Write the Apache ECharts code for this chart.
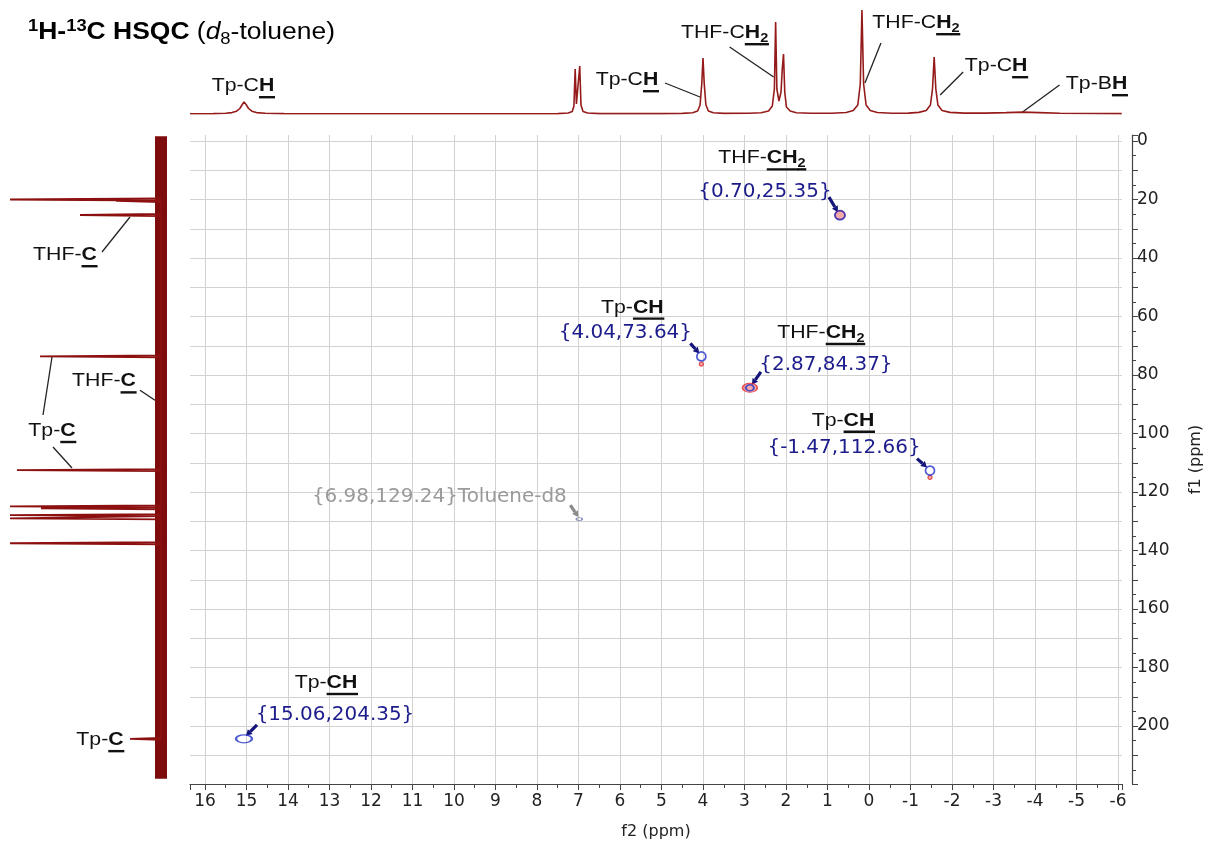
<!DOCTYPE html>
<html><head><meta charset="utf-8">
<script src="https://cdn.jsdelivr.net/npm/echarts@6/dist/echarts.min.js"></script>
<style>html,body{margin:0;padding:0;background:#fff}#c{width:1205px;height:844px}</style>
</head><body><div id="c"></div>
<script>
// ---------------- DATA ----------------
// axis extents (ppm)
const f2Range = [-6.096, 16.361];
const f1Range = [-2.05, 219.8];

// 1H projection (ppm, intensity)
const protonSpectrum = [
 [16.36,0.3],[15.8,0.4],[15.5,0.7],[15.35,1.4],[15.24,2.8],[15.16,5.5],[15.10,9.5],[15.06,12],[15.01,9.5],[14.95,5.5],[14.87,2.8],[14.76,1.4],[14.55,0.7],[14.1,0.4],
 [12.0,0.3],[9.0,0.3],[7.5,0.4],[7.25,1.0],[7.15,2.5],[7.11,8],[7.08,45],[7.05,10],[7.02,8],[6.97,48],[6.94,9],[6.89,2.5],[6.78,1.0],[6.5,0.4],
 [5.0,0.4],[4.5,0.6],[4.25,1.3],[4.13,3],[4.07,9],[4.03,30],[4.00,56],[3.97,30],[3.93,9],[3.87,3],[3.75,1.3],[3.5,0.6],
 [2.9,0.7],[2.6,1.3],[2.42,3],[2.33,8],[2.28,25],[2.25,92],[2.22,25],[2.17,13],[2.12,22],[2.09,45],[2.06,60],[2.03,22],[1.99,7],[1.9,3],[1.75,1.3],[1.4,0.7],
 [0.9,0.8],[0.55,1.5],[0.38,3.5],[0.27,9],[0.21,30],[0.17,104],[0.13,30],[0.07,9],[-0.03,3.5],[-0.2,1.5],[-0.55,0.8],
 [-0.95,0.9],[-1.2,1.6],[-1.38,3.5],[-1.48,9],[-1.53,25],[-1.57,57],[-1.61,25],[-1.66,9],[-1.76,3.5],[-1.95,1.6],[-2.3,0.9],
 [-2.8,0.9],[-3.3,1.4],[-3.7,1.9],[-4.1,1.4],[-4.6,0.8],[-5.3,0.5],[-6.09,0.4]
];

// 13C projection: noise baseline and peaks (ppm, intensity)
const carbonBaseline = [[0,-1.6],[0,218.0]];
const carbonPeakPpm = [20.0, 20.5, 25.3, 73.6, 112.5, 124.9, 125.6, 127.9, 129.0, 137.5, 204.4];
const carbonPeakInt = [151, 45, 81, 121, 144, 151, 120, 151, 151, 151, 31];

// HSQC cross peaks
const peakF2 = [0.70, 4.04, 2.87, -1.47, 6.98, 15.06];
const peakF1 = [25.35, 73.64, 84.37, 112.66, 129.24, 204.35];
const peakPre = ['THF-', 'Tp-', 'THF-', 'Tp-', '', 'Tp-'];
const peakBold = ['CH', 'CH', 'CH', 'CH', '', 'CH'];
const peakSub = ['2', '', '2', '', '', ''];
const peakSuffix = ['', '', '', '', 'Toluene-d8', ''];
// secondary (red) contours
const redF2 = [0.70, 2.87, 4.04, -1.47];
const redF1 = [25.35, 84.37, 76.3, 115.0];

// 1H projection labels
const hLabelPre = ['Tp-C', 'Tp-C', 'THF-C', 'THF-C', 'Tp-C', 'Tp-B'];
const hLabelSub = ['', '', '2', '2', '', ''];
const hLabelPpm = [15.06, 4.00, 2.25, 0.17, -1.57, -3.7];

// 13C projection labels
const cLabelPre = ['THF-', 'THF-', 'Tp-', 'Tp-'];
const cLabelPpm = [25.3, 88.6, 73.6, 204.4];

// ---------------- LAYOUT ----------------
const blueSize = [[10,9],[9,9],[8,6],[9,9],[6,3],[16,8]];
const redSize = [[10,9],[15,9],[4,4],[4,4]];
const crossLayout = [
 {name:[-78,-57], val:[-75,-23], a1:[-11,-18], a2:[-2,-3]},
 {name:[-69,-49], val:[-76,-23], a1:[-11,-13], a2:[-2,-3]},
 {name:[71,-55],  val:[76,-23],  a1:[11,-16],  a2:[2,-3]},
 {name:[-87,-50], val:[-86,-23], a1:[-13,-12], a2:[-3,-3]},
 {name:null,      val:[-140,-22],a1:[-9,-14],  a2:[-1,-2]},
 {name:[82,-56],  val:[91,-24],  a1:[13,-14],  a2:[2,-3]}
];
const hLayout = [
 {lab:[-1,-28], l1:null, l2:null},
 {lab:[-76,-34], l1:[-38,-31], l2:[-3,-17]},
 {lab:[-51,-81], l1:[-46,-67], l2:[-2,-37]},
 {lab:[54,-91], l1:[19,-71], l2:[3,-31]},
 {lab:[62,-48], l1:[29,-42], l2:[6,-19]},
 {lab:[74,-30], l1:[37,-29], l2:[0,-2]}
];
const cLayout = [
 {lab:[-96,40], lines:[[[-59,37],[-31,2]]]},
 {lab:[-57,-19], lines:[[[-21,-10],[-6,0]]]},
 {lab:[-109,74.5], lines:[[[-118,58.7],[-109,0.7]], [[-108,90.7],[-89,111.7]]]},
 {lab:[-61,1], lines:[]}
];

const AX = 'DejaVu Sans';
const LAB = 'Liberation Sans';
const SPEC = '#951b1b';

// ---------------- CHART ----------------
const chart = echarts.init(document.getElementById('c'), null, {renderer:'canvas'});

function carbonLine() {
  const out = [];
  carbonPeakPpm.forEach((p, i) => { out.push([0, p - 0.35], [carbonPeakInt[i], p], [0, p + 0.35]); });
  return out;
}
const intFmt = v => Math.abs(v - Math.round(v)) < 1e-6 ? String(Math.round(v) === 0 ? 0 : Math.round(v)) : '';

const option = {
  animation: false,
  backgroundColor: '#fff',
  grid: [
    {left:190, top:135, width:932, height:649, containLabel:false, outerBoundsMode:'none'},
    {left:190, top:10, width:932, height:104, containLabel:false, outerBoundsMode:'none'},
    {left:10, top:135, width:151, height:649, containLabel:false, outerBoundsMode:'none'}
  ],
  xAxis: [
    {gridIndex:0, type:'value', inverse:true, min:f2Range[0], max:f2Range[1], splitNumber:22,
     axisLine:{show:true, onZero:false, lineStyle:{color:'#444', width:1.2}},
     axisTick:{show:true, length:6, lineStyle:{color:'#444'}},
     minorTick:{show:true, splitNumber:2, length:4, lineStyle:{color:'#444'}},
     axisLabel:{formatter:intFmt, fontFamily:AX, fontSize:17, color:'#222', margin:9, showMinLabel:true, showMaxLabel:true},
     splitLine:{show:true, showMinLine:false, showMaxLine:false, lineStyle:{color:'#d2d2d2', width:1}},
     name:'f2 (ppm)', nameLocation:'middle', nameGap:40, nameTextStyle:{fontFamily:AX, fontSize:16, color:'#222'}},
    {gridIndex:1, type:'value', inverse:true, min:f2Range[0], max:f2Range[1], show:false},
    {gridIndex:2, type:'value', inverse:true, min:0, max:151, show:false}
  ],
  yAxis: [
    {gridIndex:0, type:'value', inverse:true, min:f1Range[0], max:f1Range[1], splitNumber:22, position:'right', offset:10,
     axisLine:{show:true, onZero:false, lineStyle:{color:'#444', width:1.2}},
     axisTick:{show:true, length:6, lineStyle:{color:'#444'}},
     minorTick:{show:true, splitNumber:2, length:4, lineStyle:{color:'#444'}},
     axisLabel:{formatter:v => { const r = Math.round(v); return (Math.abs(v - r) < 1e-6 && r % 20 === 0) ? String(r) : ''; },
       fontFamily:AX, fontSize:17, color:'#222', margin:5},
     splitLine:{show:true, showMinLine:false, showMaxLine:false, lineStyle:{color:'#d2d2d2', width:1}},
     name:'f1 (ppm)', nameLocation:'middle', nameGap:56, nameRotate:90, nameTextStyle:{fontFamily:AX, fontSize:16, color:'#222'}},
    {gridIndex:1, type:'value', min:0, max:104, show:false},
    {gridIndex:2, type:'value', inverse:true, min:f1Range[0], max:f1Range[1], show:false}
  ],
  series: [
    {type:'line', xAxisIndex:1, yAxisIndex:1, data:protonSpectrum, showSymbol:false, symbol:'none',
     lineStyle:{color:SPEC, width:1.6}, clip:true, z:3},
    {type:'line', xAxisIndex:2, yAxisIndex:2, data:carbonBaseline, showSymbol:false, symbol:'none',
     lineStyle:{color:'#7e0c0c', width:12}, z:2},
    {type:'line', xAxisIndex:2, yAxisIndex:2, data:carbonLine(), showSymbol:false, symbol:'none',
     lineStyle:{color:'#8c1010', width:1.8}, z:3},
    {type:'scatter', xAxisIndex:0, yAxisIndex:0, symbol:'circle',
     data: redF2.map((x, i) => ({value:[x, redF1[i]], symbolSize:redSize[i]})),
     itemStyle:{color:'rgba(235,60,60,0.55)', borderColor:'#e02525', borderWidth:1.2}, z:4},
    {type:'scatter', xAxisIndex:0, yAxisIndex:0, symbol:'circle',
     data: peakF2.map((x, i) => ({value:[x, peakF1[i]], symbolSize:blueSize[i],
       itemStyle: i === 4 ? {color:'rgba(0,0,0,0)', borderColor:'#6a70a8', borderWidth:1.2} : undefined})),
     itemStyle:{color:'rgba(0,0,0,0)', borderColor:'#2030c8', borderWidth:1.7}, z:5}
  ]
};
chart.setOption(option);

// ---------------- ANNOTATIONS ----------------
const mctx = document.createElement('canvas').getContext('2d');
function fnt(size, bold, italic, fam) { return (italic ? 'italic ' : '') + (bold ? 'bold ' : '') + size + 'px "' + fam + '"'; }
function makeText(parts, cx, cy, o) {
  let w = 0; const items = [];
  for (const p of parts) {
    if (!p.t) continue;
    const sz = p.small ? Math.round(o.size * 0.68) : o.size;
    const f = fnt(sz, p.b, p.i, o.fam);
    mctx.font = f;
    const tw = mctx.measureText(p.t).width;
    items.push({p, f, x:w, tw});
    w += tw;
  }
  const x0 = o.align === 'left' ? 0 : -w / 2;
  const ch = [];
  for (const it of items) {
    const dy = it.p.sub ? o.size * 0.3 : (it.p.sup ? -o.size * 0.3 : 0);
    ch.push({type:'text', x:x0 + it.x, y:dy,
      style:{text:it.p.t, font:it.f, fill:it.p.c || o.color, textAlign:'left', textVerticalAlign:'middle', align:'left', verticalAlign:'middle'}});
    if (it.p.u) ch.push({type:'rect', shape:{x:x0 + it.x, y:o.size * 0.5 + 0.5, width:it.tw + 0.6, height:2.4},
      style:{fill:it.p.c || o.color}});
  }
  return {type:'group', x:cx, y:cy, scaleX:o.sx || 1, children:ch};
}
function seg(x1, y1, x2, y2, color, w) {
  return {type:'line', shape:{x1, y1, x2, y2}, style:{stroke:color, lineWidth:w}};
}
function arrow(x1, y1, x2, y2, color) {
  const dx = x2 - x1, dy = y2 - y1, L = Math.hypot(dx, dy), ux = dx / L, uy = dy / L;
  const hb = 6, hw = 3.4, bx = x2 - ux * hb, by = y2 - uy * hb;
  return [seg(x1, y1, bx, by, color, 3.2),
    {type:'polygon', shape:{points:[[x2, y2], [bx - uy * hw, by + ux * hw], [bx + uy * hw, by - ux * hw]]}, style:{fill:color}}];
}

const g = [];
const labStyle = {size:19, fam:LAB, color:'#111', sx:1.12};
const valStyle = {size:19, fam:AX, color:'#1c1c8c', sx:1.05};

// title
g.push(makeText([
  {t:'1', b:true, small:true, sup:true}, {t:'H-', b:true}, {t:'13', b:true, small:true, sup:true}, {t:'C HSQC', b:true},
  {t:' ('}, {t:'d', i:true}, {t:'8', small:true, sub:true}, {t:'-toluene)'}
], 28, 33, {size:23, fam:LAB, color:'#000', sx:1.15, align:'left'}));

// cross peaks
peakF2.forEach((x, i) => {
  const [px, py] = chart.convertToPixel({gridIndex:0}, [x, peakF1[i]]);
  const L = crossLayout[i];
  const valTxt = '{' + x.toFixed(2) + ',' + peakF1[i].toFixed(2) + '}' + peakSuffix[i];
  const gray = i === 4;
  const col = gray ? '#9a9a9a' : '#1c1c8c';
  if (L.name) {
    g.push(makeText([{t:peakPre[i]}, {t:peakBold[i], b:true, u:true}, {t:peakSub[i], b:true, u:true, small:true, sub:true}],
      px + L.name[0], py + L.name[1], labStyle));
  }
  g.push(makeText([{t:valTxt, c:col}], px + L.val[0], py + L.val[1], valStyle));
  arrow(px + L.a1[0], py + L.a1[1], px + L.a2[0], py + L.a2[1], gray ? '#8a8a8a' : '#14147a').forEach(e => g.push(e));
});

// 1H projection labels
hLabelPpm.forEach((p, i) => {
  const [px, py] = chart.convertToPixel({gridIndex:1}, [p, 0]);
  const L = hLayout[i];
  g.push(makeText([{t:hLabelPre[i]}, {t:'H', b:true, u:true}, {t:hLabelSub[i], b:true, u:true, small:true, sub:true}],
    px + L.lab[0], py + L.lab[1], labStyle));
  if (L.l1) g.push(seg(px + L.l1[0], py + L.l1[1], px + L.l2[0], py + L.l2[1], '#222', 1.3));
});

// 13C projection labels
cLabelPpm.forEach((p, i) => {
  const [px, py] = chart.convertToPixel({gridIndex:2}, [0, p]);
  const L = cLayout[i];
  g.push(makeText([{t:cLabelPre[i]}, {t:'C', b:true, u:true}], px + L.lab[0], py + L.lab[1], labStyle));
  L.lines.forEach(l => g.push(seg(px + l[0][0], py + l[0][1], px + l[1][0], py + l[1][1], '#222', 1.3)));
});

chart.setOption({graphic:{elements:g}});
</script>
</body></html>
